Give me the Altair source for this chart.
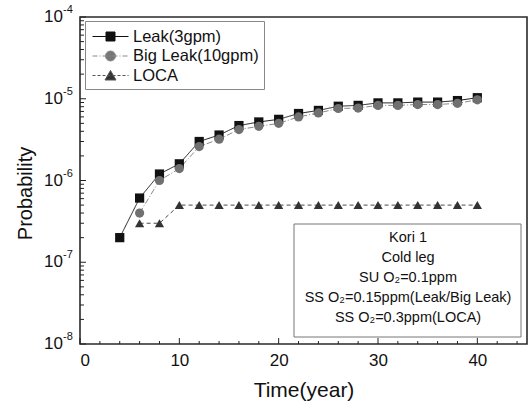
import altair as alt
import pandas as pd

# ---------------- data ----------------
series_names = ["Leak(3gpm)", "Big Leak(10gpm)", "LOCA"]

leak_years = [4, 6, 8, 10, 12, 14, 16, 18, 20, 22, 24, 26, 28, 30, 32, 34, 36, 38, 40]
leak_prob = [2.0e-7, 6.1e-7, 1.2e-6, 1.6e-6, 3.0e-6, 3.6e-6, 4.7e-6, 5.2e-6, 5.6e-6,
             6.6e-6, 7.2e-6, 8.1e-6, 8.3e-6, 8.9e-6, 8.9e-6, 9.1e-6, 9.1e-6, 9.5e-6, 1.03e-5]

big_years = [6, 8, 10, 12, 14, 16, 18, 20, 22, 24, 26, 28, 30, 32, 34, 36, 38, 40]
big_prob = [4.0e-7, 1.0e-6, 1.4e-6, 2.6e-6, 3.2e-6, 4.2e-6, 4.6e-6, 5.0e-6, 6.0e-6,
            6.7e-6, 7.6e-6, 7.7e-6, 8.3e-6, 8.3e-6, 8.5e-6, 8.5e-6, 8.8e-6, 9.7e-6]

loca_years = [6, 8, 10, 12, 14, 16, 18, 20, 22, 24, 26, 28, 30, 32, 34, 36, 38, 40]
loca_prob = [3e-7, 3e-7, 5e-7, 5e-7, 5e-7, 5e-7, 5e-7, 5e-7, 5e-7,
             5e-7, 5e-7, 5e-7, 5e-7, 5e-7, 5e-7, 5e-7, 5e-7, 5e-7]

x_major_ticks = [0, 10, 20, 30, 40]
x_minor_ticks = [2, 4, 6, 8, 12, 14, 16, 18, 22, 24, 26, 28, 32, 34, 36, 38, 42, 44]
y_major_ticks = [1e-8, 1e-7, 1e-6, 1e-5, 1e-4]
y_major_exps = ["-8", "-7", "-6", "-5", "-4"]
y_minor_ticks = [m * 10.0 ** e for e in (-8, -7, -6, -5) for m in (2, 3, 4, 5, 6, 7, 8, 9)]

note_text = "Kori 1\nCold leg\nSU O\u2082=0.1ppm\nSS O\u2082=0.15ppm(Leak/Big Leak)\nSS O\u2082=0.3ppm(LOCA)"

# ---------------- tables ----------------
rows = []
for name, yrs, ps in zip(series_names, [leak_years, big_years, loca_years], [leak_prob, big_prob, loca_prob]):
    for yr, p in zip(yrs, ps):
        rows.append({"series": name, "year": yr, "prob": p})
df = pd.DataFrame(rows)

W, H = 447, 327
FONT = "Liberation Sans"

xs = alt.Scale(domain=[0, 45], nice=False, zero=False)
ys = alt.Scale(type="log", domain=[1e-8, 1e-4], nice=False)

X = alt.X("year:Q", scale=xs,
          axis=alt.Axis(values=x_major_ticks, tickSize=0, domain=False, grid=False,
                        labelFontSize=17, labelPadding=8, labelColor="#111",
                        title="Time(year)", titleFontSize=21, titleFontWeight="normal",
                        titleColor="#111", titlePadding=11))
Y = alt.Y("prob:Q", scale=ys,
          axis=alt.Axis(labels=False, ticks=False, domain=False, grid=False,
                        title="Probability", titleFontSize=20, titleFontWeight="normal",
                        titleColor="#111", titleX=-55, titleY=176, titleAngle=-90,
                        titleAlign="center", titleBaseline="middle"))

line_colors = ["#1a1a1a", "#8a8a8a", "#4a4a4a"]
pt_colors = ["#111111", "#707070", "#333333"]

lines = alt.Chart(df).mark_line(strokeWidth=1).encode(
    x=X, y=Y,
    stroke=alt.Stroke("series:N", scale=alt.Scale(domain=series_names, range=line_colors), legend=None),
    strokeDash=alt.StrokeDash("series:N", scale=alt.Scale(domain=series_names, range=[[1, 0], [6, 2, 1, 2], [4, 3]]), legend=None),
    detail="series:N",
)

points = alt.Chart(df).mark_point(filled=True, size=85, opacity=1).encode(
    x=alt.X("year:Q", scale=xs), y=alt.Y("prob:Q", scale=ys),
    fill=alt.Fill("series:N", scale=alt.Scale(domain=series_names, range=pt_colors), legend=None),
    shape=alt.Shape("series:N", scale=alt.Scale(domain=series_names, range=["square", "circle", "triangle-up"]), legend=None),
)

# legend symbols: line + marker drawn as one path (units of 10 px)
def dashed(x0, x1, pattern):
    parts, x, i = [], x0, 0
    while x < x1:
        seg, gap = pattern[i % len(pattern)]
        parts.append(f"M{x:.2f},0H{min(x + seg, x1):.2f}")
        x += seg + gap
        i += 1
    return "".join(parts)

sym_leak = "M-0.8,0H2.8M0.55,-0.45H1.45V0.45H0.55Z"
sym_big = dashed(-0.8, 2.8, [(0.5, 0.2), (0.1, 0.2)]) + "M0.5,0A0.5,0.5,0,1,0,1.5,0A0.5,0.5,0,1,0,0.5,0Z"
sym_loca = dashed(-0.8, 2.8, [(0.3, 0.2)]) + "M0.45,0.45L1.55,0.45L1.0,-0.5Z"

leg_df = pd.DataFrame({"legend_series": series_names})
leg_common = dict(orient="none", legendX=5, legendY=4, title=None, labelFontSize=16.5,
                  labelColor="#111", labelFont=FONT, symbolSize=400, symbolStrokeWidth=1,
                  symbolOpacity=1, labelOffset=22, rowPadding=0.5, padding=5,
                  strokeColor="#888888", fillColor="white", labelLimit=300)
legend_layer = alt.Chart(leg_df).mark_point(filled=True, size=400, opacity=0).encode(
    fill=alt.Fill("legend_series:N", scale=alt.Scale(domain=series_names, range=["#111111", "#777777", "#333333"]),
                  legend=alt.Legend(**leg_common)),
    stroke=alt.Stroke("legend_series:N", scale=alt.Scale(domain=series_names, range=["#111111", "#8a8a8a", "#555555"]),
                      legend=alt.Legend(**leg_common)),
    shape=alt.Shape("legend_series:N", scale=alt.Scale(domain=series_names, range=[sym_leak, sym_big, sym_loca]),
                    legend=alt.Legend(**leg_common)),
)

# inside ticks
xmaj = alt.Chart(pd.DataFrame({"year": x_major_ticks})).mark_rule(color="#222", strokeWidth=1).encode(
    x=alt.X("year:Q", scale=xs), y=alt.value(H), y2=alt.value(H - 6))
xmin = alt.Chart(pd.DataFrame({"year": x_minor_ticks})).mark_rule(color="#222", strokeWidth=1).encode(
    x=alt.X("year:Q", scale=xs), y=alt.value(H), y2=alt.value(H - 3))
ymaj = alt.Chart(pd.DataFrame({"prob": y_major_ticks})).mark_rule(color="#222", strokeWidth=1).encode(
    y=alt.Y("prob:Q", scale=ys), x=alt.value(0), x2=alt.value(6))
ymin = alt.Chart(pd.DataFrame({"prob": y_minor_ticks})).mark_rule(color="#222", strokeWidth=1).encode(
    y=alt.Y("prob:Q", scale=ys), x=alt.value(0), x2=alt.value(4))

# y tick labels 10^n
ylab_df = pd.DataFrame({"prob": y_major_ticks, "base": ["10"] * len(y_major_ticks), "exp": y_major_exps})
ylab_base = alt.Chart(ylab_df).mark_text(align="right", baseline="middle", fontSize=17, color="#111", font=FONT).encode(
    y=alt.Y("prob:Q", scale=ys), x=alt.value(-17), text="base:N")
ylab_exp = alt.Chart(ylab_df).mark_text(align="left", baseline="middle", fontSize=11, dy=-7, color="#111", font=FONT).encode(
    y=alt.Y("prob:Q", scale=ys), x=alt.value(-17), text="exp:N")

# annotation box
note_df = pd.DataFrame({"t": [note_text]})
note_box = alt.Chart(note_df).mark_rect(fill="white", stroke="#777777", strokeWidth=1).encode(
    x=alt.value(214), x2=alt.value(441), y=alt.value(207), y2=alt.value(320))
note_txt = alt.Chart(note_df).mark_text(align="center", baseline="middle", fontSize=14.5, lineHeight=20,
                                        lineBreak="\n", color="#111", font=FONT).encode(
    x=alt.value(328), y=alt.value(221), text="t:N")

chart = alt.layer(
    note_box, note_txt, xmaj, xmin, ymaj, ymin, lines, points, legend_layer, ylab_base, ylab_exp
).resolve_scale(
    fill="independent", stroke="independent", shape="independent", strokeDash="independent"
).properties(
    width=W, height=H,
    autosize=alt.AutoSizeParams(type="none"),
    padding={"left": 80, "top": 17, "right": 2, "bottom": 61},
).configure(
    font=FONT, background="white"
).configure_view(
    stroke="#2a2a2a", strokeWidth=1.6
)

chart.save("out.html", embed_options={"renderer": "svg", "actions": False})
